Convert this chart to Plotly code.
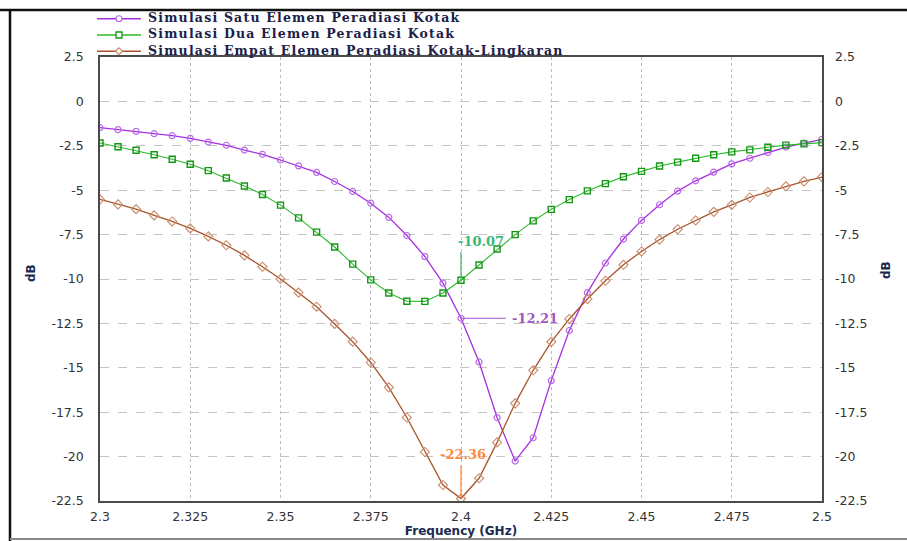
import plotly.graph_objects as go

freq = [2.300, 2.305, 2.310, 2.315, 2.320, 2.325, 2.330, 2.335, 2.340, 2.345,
        2.350, 2.355, 2.360, 2.365, 2.370, 2.375, 2.380, 2.385, 2.390, 2.395,
        2.400, 2.405, 2.410, 2.415, 2.420, 2.425, 2.430, 2.435, 2.440, 2.445,
        2.450, 2.455, 2.460, 2.465, 2.470, 2.475, 2.480, 2.485, 2.490, 2.495,
        2.500]

satu = [-1.48, -1.59, -1.69, -1.82, -1.93, -2.08, -2.29, -2.47, -2.74, -2.98,
        -3.30, -3.63, -4.00, -4.51, -5.07, -5.73, -6.53, -7.55, -8.74, -10.23,
        -12.21, -14.67, -17.80, -20.25, -18.94, -15.72, -12.90, -10.77, -9.10, -7.75,
        -6.70, -5.82, -5.05, -4.47, -3.98, -3.52, -3.20, -2.88, -2.57, -2.35,
        -2.14]

dua = [-2.34, -2.55, -2.75, -3.00, -3.26, -3.54, -3.90, -4.31, -4.76, -5.24,
       -5.84, -6.56, -7.36, -8.20, -9.16, -10.05, -10.79, -11.25, -11.26, -10.79,
       -10.07, -9.21, -8.31, -7.50, -6.73, -6.08, -5.53, -5.04, -4.63, -4.24,
       -3.94, -3.64, -3.42, -3.20, -3.00, -2.84, -2.73, -2.58, -2.46, -2.39,
       -2.32]

empat = [-5.52, -5.80, -6.07, -6.42, -6.76, -7.15, -7.60, -8.10, -8.67, -9.31,
         -10.00, -10.77, -11.56, -12.53, -13.53, -14.70, -16.10, -17.80, -19.74, -21.60,
         -22.36, -21.22, -19.20, -17.00, -15.14, -13.54, -12.25, -11.13, -10.10, -9.20,
         -8.45, -7.78, -7.20, -6.70, -6.22, -5.83, -5.41, -5.10, -4.78, -4.50,
         -4.26]

series_names = ["Simulasi Satu Elemen Peradiasi Kotak",
                "Simulasi Dua Elemen Peradiasi Kotak",
                "Simulasi Empat Elemen Peradiasi Kotak-Lingkaran"]

x_tick_vals = [2.3, 2.325, 2.35, 2.375, 2.4, 2.425, 2.45, 2.475, 2.5]
x_tick_text = ["2.3", "2.325", "2.35", "2.375", "2.4", "2.425", "2.45", "2.475", "2.5"]
y_tick_vals = [2.5, 0, -2.5, -5, -7.5, -10, -12.5, -15, -17.5, -20, -22.5]
y_tick_text = ["2.5", "0", "-2.5", "-5", "-7.5", "-10", "-12.5", "-15", "-17.5", "-20", "-22.5"]

marker_freq = 2.4
marker_vals = {"dua": -10.07, "satu": -12.21, "empat": -22.36}

C_SATU = "#a52ee0"
C_DUA = "#2db82d"
C_EMPAT = "#a8542a"
M_SATU = "#b86ae8"
M_DUA = "#129812"
M_EMPAT = "#c98a6a"

fig = go.Figure()
fig.add_trace(go.Scatter(x=freq, y=satu, mode="lines+markers", name=series_names[0],
                         line=dict(color=C_SATU, width=1.3),
                         marker=dict(symbol="circle-open", size=6, color=M_SATU, line=dict(width=1.2))))
fig.add_trace(go.Scatter(x=freq, y=dua, mode="lines+markers", name=series_names[1],
                         line=dict(color=C_DUA, width=1.1),
                         marker=dict(symbol="square-open", size=6, color=M_DUA, line=dict(width=1.4))))
fig.add_trace(go.Scatter(x=freq, y=empat, mode="lines+markers", name=series_names[2],
                         line=dict(color=C_EMPAT, width=1.3),
                         marker=dict(symbol="diamond-open", size=7, color=M_EMPAT, line=dict(width=1.1))))

axis_font = dict(family="DejaVu Sans", size=12.5, color="#333333")

fig.update_layout(
    width=907, height=541,
    margin=dict(l=100, r=85, t=57, b=40),
    paper_bgcolor="white", plot_bgcolor="white",
    showlegend=False,
    xaxis=dict(range=[2.3, 2.5], tickvals=x_tick_vals, ticktext=x_tick_text, automargin=False,
               showgrid=True, gridcolor="#bdbdbd", griddash="dot", gridwidth=1,
               zeroline=False, showline=True, linecolor="#4a4a4a", linewidth=1.5, mirror=True,
               ticks="", tickfont=axis_font, ticklabelstandoff=3,
               title=dict(text="<b>Frequency (GHz)</b>", font=dict(family="DejaVu Sans", size=12, color="#1a2a50"),
                          standoff=0)),
    yaxis=dict(range=[-22.5, 2.5], tickvals=y_tick_vals, ticktext=y_tick_text, automargin=False,
               showgrid=True, gridcolor="#c4c4c4", griddash="dash", gridwidth=1,
               zeroline=False, showline=True, linecolor="#4a4a4a", linewidth=1.5, mirror=True,
               ticks="", tickfont=axis_font, ticklabelstandoff=12),
    yaxis2=dict(range=[-22.5, 2.5], tickvals=y_tick_vals, ticktext=y_tick_text, automargin=False,
                overlaying="y", side="right", showgrid=False, zeroline=False,
                ticks="", tickfont=axis_font, ticklabelstandoff=12, showline=False),
)

# invisible trace so the right axis is drawn
fig.add_trace(go.Scatter(x=[freq[0]], y=[satu[0]], yaxis="y2", mode="markers",
                         marker=dict(opacity=0), hoverinfo="skip", showlegend=False))

def px_x(p):
    return (p - 100) / 722.0

def px_y(p):
    return (501 - p) / 444.0

shapes = []
annotations = []

# outer frame of the picture
shapes.append(dict(type="line", xref="paper", yref="paper", x0=px_x(0), x1=px_x(907), y0=px_y(10), y1=px_y(10),
                   line=dict(color="#111111", width=2.5)))
shapes.append(dict(type="line", xref="paper", yref="paper", x0=px_x(10), x1=px_x(10), y0=px_y(10), y1=px_y(541),
                   line=dict(color="#111111", width=2.5)))
shapes.append(dict(type="line", xref="paper", yref="paper", x0=px_x(10), x1=px_x(907), y0=px_y(539), y1=px_y(539),
                   line=dict(color="#8a8a8a", width=2)))

# custom legend (one multi-line text block, samples drawn beside each line)
leg_font = 12.5
leg_gap = 1.3 * leg_font
leg_center = 34
leg_rows = [leg_center - leg_gap, leg_center, leg_center + leg_gap]
leg_cols = [(C_SATU, M_SATU), (C_DUA, M_DUA), (C_EMPAT, M_EMPAT)]
for i, (row, (lc, mc)) in enumerate(zip(leg_rows, leg_cols)):
    row = row + 1
    shapes.append(dict(type="line", xref="paper", yref="paper", x0=px_x(97), x1=px_x(141),
                       y0=px_y(row), y1=px_y(row), line=dict(color=lc, width=1.3)))
    cx, cy, r = 119, row, 3
    if i == 0:
        shapes.append(dict(type="circle", xref="paper", yref="paper", x0=px_x(cx - r), x1=px_x(cx + r),
                           y0=px_y(cy + r), y1=px_y(cy - r), line=dict(color=mc, width=1.2), fillcolor="white"))
    elif i == 1:
        shapes.append(dict(type="rect", xref="paper", yref="paper", x0=px_x(cx - r), x1=px_x(cx + r),
                           y0=px_y(cy + r), y1=px_y(cy - r), line=dict(color=mc, width=1.3), fillcolor="white"))
    else:
        path = "M {} {} L {} {} L {} {} L {} {} Z".format(
            px_x(cx - r - 0.5), px_y(cy), px_x(cx), px_y(cy - r - 0.5),
            px_x(cx + r + 0.5), px_y(cy), px_x(cx), px_y(cy + r + 0.5))
        shapes.append(dict(type="path", xref="paper", yref="paper", path=path,
                           line=dict(color=mc, width=1.1), fillcolor="white"))

legend_text = "<br>".join('<span style="letter-spacing:1.2px"><b>' + n + "</b></span>" for n in series_names)
annotations.append(dict(xref="paper", yref="paper", x=px_x(146), y=px_y(leg_center), xanchor="left",
                        yanchor="middle", align="left", text=legend_text, showarrow=False,
                        font=dict(family="DejaVu Serif", size=leg_font, color="#202048")))

# dB titles
annotations.append(dict(xref="paper", yref="paper", x=px_x(22), y=px_y(273), text="<b>dB</b>", textangle=-90,
                        showarrow=False, font=dict(family="DejaVu Sans", size=12, color="#1a2a50")))
annotations.append(dict(xref="paper", yref="paper", x=px_x(895), y=px_y(270), text="<b>dB</b>", textangle=-90,
                        showarrow=False, font=dict(family="DejaVu Sans", size=12, color="#1a2a50")))

# marker annotations at 2.4 GHz
dB_per_px = 25.0 / 444.0
GHz_per_px = 0.2 / 722.0
v = marker_vals["dua"]
shapes.append(dict(type="line", xref="x", yref="y", x0=marker_freq, x1=marker_freq,
                   y0=v, y1=v + 28 * dB_per_px, line=dict(color="#3cb371", width=1.2)))
annotations.append(dict(xref="x", yref="y", x=marker_freq + 20 * GHz_per_px, y=v + 39 * dB_per_px,
                        text="<b>-10.07</b>", showarrow=False,
                        font=dict(family="DejaVu Serif", size=13, color="#3cb878")))
v = marker_vals["satu"]
shapes.append(dict(type="line", xref="x", yref="y", x0=marker_freq, x1=marker_freq + 45 * GHz_per_px,
                   y0=v, y1=v, line=dict(color="#b050d8", width=1.2)))
annotations.append(dict(xref="x", yref="y", x=marker_freq + 49 * GHz_per_px, y=v, xanchor="left",
                        text="<b>-12.21</b>", showarrow=False,
                        font=dict(family="DejaVu Serif", size=13, color="#a058c0")))
v = marker_vals["empat"]
shapes.append(dict(type="line", xref="x", yref="y", x0=marker_freq, x1=marker_freq,
                   y0=v, y1=v + 33 * dB_per_px, line=dict(color="#ff8030", width=1.2)))
annotations.append(dict(xref="x", yref="y", x=marker_freq + 2 * GHz_per_px, y=v + 44 * dB_per_px,
                        text="<b>-22.36</b>", showarrow=False,
                        font=dict(family="DejaVu Serif", size=13, color="#ff8a3c")))

fig.update_layout(shapes=shapes, annotations=annotations)

fig.write_html("out.html")
